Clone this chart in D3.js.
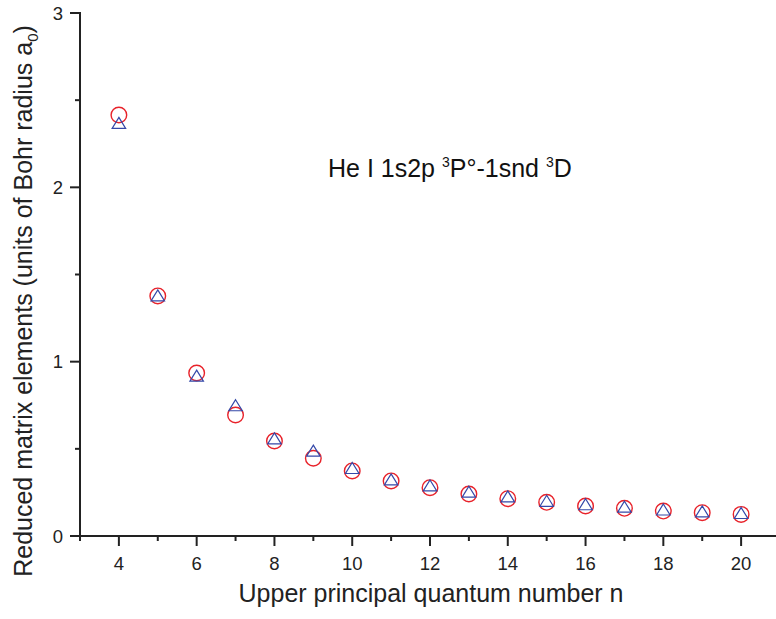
<!DOCTYPE html>
<html><head><meta charset="utf-8">
<script src="https://cdn.jsdelivr.net/npm/d3@7/dist/d3.min.js"></script>
<style>body{margin:0;background:#fff}svg{display:block;font-family:"Liberation Sans",Arial,sans-serif}</style>
</head><body>
<script>
const nValues = [4,5,6,7,8,9,10,11,12,13,14,15,16,17,18,19,20];
const circleValues = [2.415,1.377,0.935,0.694,0.545,0.446,0.373,0.316,0.277,0.241,0.214,0.193,0.172,0.159,0.143,0.134,0.124];
const triangleValues = [2.37,1.38,0.92,0.75,0.56,0.49,0.39,0.325,0.29,0.254,0.227,0.202,0.182,0.168,0.152,0.141,0.132];
const xTicks = [4,6,8,10,12,14,16,18,20];
const yTicks = [0,1,2,3];

const W=776,H=619;
const svg=d3.select("body").append("svg").attr("width",W).attr("height",H);
const x=d3.scaleLinear().domain([3,21]).range([80,780]);
const y=d3.scaleLinear().domain([0,3]).range([536,13]);

// axes
const gx=svg.append("g").attr("transform","translate(0,536)");
gx.append("line").attr("x1",x(3)).attr("x2",776).attr("stroke","#222").attr("stroke-width",2);
const minorX=d3.range(3,21,1).filter(v=>v%2===1);
gx.selectAll(".mx").data(minorX).enter().append("line").attr("x1",d=>x(d)).attr("x2",d=>x(d)).attr("y1",0).attr("y2",5).attr("stroke","#222").attr("stroke-width",2);
gx.selectAll(".Mx").data(xTicks).enter().append("line").attr("x1",d=>x(d)).attr("x2",d=>x(d)).attr("y1",0).attr("y2",10).attr("stroke","#222").attr("stroke-width",2);
gx.selectAll(".tx").data(xTicks).enter().append("text").attr("x",d=>x(d)).attr("y",34).attr("text-anchor","middle").attr("font-size",18.5).attr("fill","#222").text(d=>d);

const gy=svg.append("g").attr("transform","translate(80,0)");
gy.append("line").attr("y1",y(0)+1).attr("y2",y(3)-1).attr("stroke","#222").attr("stroke-width",2);
gy.selectAll(".my").data([0.5,1.5,2.5]).enter().append("line").attr("y1",d=>y(d)).attr("y2",d=>y(d)).attr("x1",0).attr("x2",-5).attr("stroke","#222").attr("stroke-width",2);
gy.selectAll(".My").data(yTicks).enter().append("line").attr("y1",d=>y(d)).attr("y2",d=>y(d)).attr("x1",0).attr("x2",-10).attr("stroke","#222").attr("stroke-width",2);
gy.selectAll(".ty").data(yTicks).enter().append("text").attr("x",-17).attr("y",d=>y(d)+6.5).attr("text-anchor","end").attr("font-size",18.5).attr("fill","#222").text(d=>d);

// titles
svg.append("text").attr("x",431).attr("y",602).attr("text-anchor","middle").attr("font-size",25).attr("fill","#222").text("Upper principal quantum number n");
const yt=svg.append("text").attr("transform","translate(32,301) rotate(-90)").attr("text-anchor","middle").attr("font-size",25).attr("fill","#222");
yt.append("tspan").text("Reduced matrix elements (units of Bohr radius a");
yt.append("tspan").attr("font-size",15).attr("dy",6).text("0");
yt.append("tspan").attr("dy",-6).text(")");

const ann=svg.append("text").attr("x",328).attr("y",177).attr("font-size",25).attr("fill","#111");
ann.append("tspan").text("He I 1s2p ");
ann.append("tspan").attr("font-size",14).attr("dy",-10).text("3");
ann.append("tspan").attr("dy",10).text("P°-1snd ");
ann.append("tspan").attr("font-size",14).attr("dy",-10).text("3");
ann.append("tspan").attr("dy",10).text("D");

// markers
svg.selectAll(".c").data(nValues).enter().append("circle")
 .attr("cx",(d)=>x(d)).attr("cy",(d,i)=>y(circleValues[i])).attr("r",7.8)
 .attr("fill","none").attr("stroke","#e8222a").attr("stroke-width",1.4);
const tw=13.5, th=11;
svg.selectAll(".t").data(nValues).enter().append("path")
 .attr("d",(d,i)=>{const cx=x(d), cy=y(triangleValues[i]);
   return `M${cx},${cy-th/2}L${cx+tw/2},${cy+th/2}L${cx-tw/2},${cy+th/2}Z`;})
 .attr("fill","none").attr("stroke","#3448a8").attr("stroke-width",1.2);
</script>
</body></html>
